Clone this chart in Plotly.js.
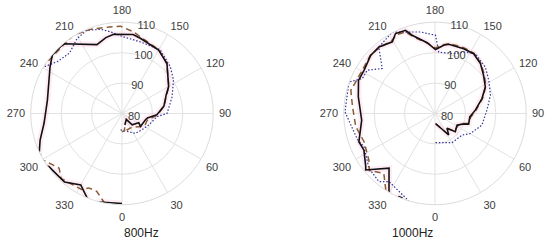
<!DOCTYPE html>
<html>
<head>
<meta charset="utf-8">
<script src="https://cdn.plot.ly/plotly-3.0.1.min.js"></script>
<style>
  html, body { margin: 0; padding: 0; background: #fff; }
  #plotlyDiv { width: 550px; height: 244px; }
</style>
</head>
<body>
<div id="plotlyDiv"></div>
<script>
// 800Hz
var th800Black = [14, 36, 42, 61, 55, 75, 80, 88, 100, 113, 120, 138, 150, 166, 172, 186, 192, 200, 220, 230, 237, 260, 277, 288, 295, 300, 306, 320, 330, 337, 342, 346, 360];
var r800Black  = [83.9, 82.4, 85, 86.3, 87.4, 88, 88.5, 91.5, 94, 95.8, 97.7, 102.1, 104.1, 105.4, 106.2, 106.2, 105.5, 104.1, 109.9, 109.9, 108.2, 104.9, 105.8, 108.3, 110, 113, 109.7, 109.4, 107.1, 109.8, 113, 110, 109.6];

var th800Brown = [0, 8, 12, 18, 30, 42, 55, 62, 75, 88, 100, 113, 120, 138, 150, 166, 172, 181, 188, 200, 212, 222, 232, 241, 250, 295, 302, 311, 317, 332, 336, 342, 348, 354];
var r800Brown  = [86, 85.7, 84.4, 85.7, 85.5, 86, 87.5, 88.5, 88.6, 91.8, 94, 96, 97.8, 102, 104.2, 105.8, 107.1, 108.7, 108.7, 109.5, 110.3, 109.5, 109.6, 110.5, 113, 113, 109.6, 107.4, 109.3, 108.3, 106.8, 106.9, 109.5, 113];

var th800Blue = [355, 20, 34, 51, 67, 85, 90, 108, 123, 134, 149, 166, 179, 188, 194, 203, 211, 221, 231, 238, 241, 250, 292, 297, 300];
var r800Blue  = [85.4, 86.4, 87.9, 88.5, 89.6, 91.6, 94.8, 97.3, 100.2, 102.1, 104.4, 104.3, 105.2, 107.1, 108.5, 109.7, 108.7, 106.3, 107.2, 109.4, 110.5, 113, 113, 110, 112];

// 1000Hz
var th1000Black = [3, 32.5, 39, 48, 62, 68.5, 72.4, 84.4, 94.7, 107.6, 117.8, 128.1, 137.7, 147.1, 156.1, 168.7, 172.7, 179.6, 186.3, 196.3, 199.5, 206.3, 210.8, 220.1, 227.9, 238.7, 246.6, 257.7, 275.2, 290.4, 297.3, 307.5, 309.2, 320, 329.5, 333, 336.5, 339];
var r1000Black  = [83.3, 88.4, 86.3, 89, 88.2, 89.6, 91.6, 91.5, 93.3, 96.2, 98.7, 100.3, 102.2, 103.4, 103.3, 103.2, 102.6, 101, 103.4, 106.8, 109, 109.3, 107.4, 108.6, 108.5, 107.3, 107.4, 105.8, 104.2, 106.7, 106.3, 108.7, 109.4, 103.5, 109.8, 113, 109.8, 109.8];

var th1000Brown = [5, 32, 39, 48, 62, 69, 73, 84, 95, 108, 118, 128, 138, 147, 156, 168, 173, 180, 186, 196, 200, 206, 211, 220, 228, 239, 254.6, 265.4, 279.5, 291.7, 305.2, 311, 319.5, 326.6, 330];
var r1000Brown  = [83.5, 88, 86.5, 88.6, 88.5, 89.3, 91.3, 91.8, 93.6, 96.5, 98.9, 100.6, 102.4, 103.6, 103.6, 103.5, 102.8, 101.5, 103.2, 106.3, 108.5, 108.8, 107.8, 108.3, 108.6, 107.8, 108.7, 107.2, 106.4, 105.1, 106.6, 108.6, 105.9, 109.5, 112];

var th1000Blue = [1, 30.4, 51.4, 60.6, 76.1, 93.6, 108.3, 121.8, 132.7, 146, 154.9, 162.6, 176.5, 179.6, 190, 207.7, 220.2, 229.6, 237.4, 244.3, 249.9, 269, 288.4, 295.1, 309.7, 320.5, 326, 342.5, 348];
var r1000Blue  = [89.6, 91.1, 91.4, 93.4, 95.9, 97.1, 99.2, 100.8, 102.5, 103.7, 102.3, 100.6, 100.2, 105.7, 107.2, 110.2, 108.6, 102.8, 106.4, 106.5, 110.1, 109.6, 106.9, 105.8, 108.2, 109, 107, 109.8, 113];

var angleTicks = [0, 30, 60, 90, 120, 150, 180, 210, 240, 270, 300, 330];
var radialTicks = [80, 90, 100, 110];
var panelTitles = ['800Hz', '1000Hz'];

function traces(sub, th, rBlack, thBr, rBr, thBl, rBl) {
    return [
        {type: 'scatterpolar', mode: 'lines', subplot: sub, theta: th, r: rBlack, cliponaxis: true,
         line: {color: 'rgba(255,180,215,0.25)', width: 6}, hoverinfo: 'skip'},
        {type: 'scatterpolar', mode: 'lines', subplot: sub, theta: thBl, r: rBl, cliponaxis: true,
         line: {color: '#33339a', width: 1.2, dash: '1.5px,1.8px'}},
        {type: 'scatterpolar', mode: 'lines', subplot: sub, theta: thBr, r: rBr, cliponaxis: true,
         line: {color: '#8a5a36', width: 1.5, dash: '6px,4px'}},
        {type: 'scatterpolar', mode: 'lines', subplot: sub, theta: th, r: rBlack, cliponaxis: true,
         line: {color: '#111111', width: 1.6}}
    ];
}

var data = traces('polar', th800Black, r800Black, th800Brown, r800Brown, th800Blue, r800Blue)
    .concat(traces('polar2', th1000Black, r1000Black, th1000Brown, r1000Brown, th1000Blue, r1000Blue));

function polarAxes(xdom) {
    return {
        domain: {x: xdom, y: [0.161, 0.909]},
        bgcolor: 'white',
        radialaxis: {
            range: [80, 110], tickvals: radialTicks, angle: 84, tickangle: 84,
            showline: false, ticks: '', gridcolor: '#e2e2e2',
            tickfont: {size: 11, color: '#404040'}
        },
        angularaxis: {
            rotation: -90, direction: 'counterclockwise',
            tickvals: angleTicks, ticks: 'outside', ticklen: 3, tickcolor: 'rgba(0,0,0,0)',
            showline: true, linecolor: '#dcdcdc', gridcolor: '#e2e2e2',
            tickfont: {size: 11, color: '#404040'}
        }
    };
}

var layout = {
    width: 550, height: 244,
    margin: {l: 0, r: 0, t: 0, b: 0},
    paper_bgcolor: 'white',
    showlegend: false,
    font: {family: 'Liberation Sans, Arial, sans-serif', size: 11, color: '#404040'},
    polar: polarAxes([0.0551, 0.3885]),
    polar2: polarAxes([0.6242, 0.9576]),
    annotations: [
        {text: panelTitles[0], x: 0.221, y: 0.045, xref: 'paper', yref: 'paper', yanchor: 'middle',
         showarrow: false, font: {size: 12, color: '#222'}},
        {text: panelTitles[1], x: 0.79, y: 0.045, xref: 'paper', yref: 'paper', yanchor: 'middle',
         showarrow: false, font: {size: 12, color: '#222'}}
    ]
};

Plotly.newPlot('plotlyDiv', data, layout, {staticPlot: true});
</script>
</body>
</html>
